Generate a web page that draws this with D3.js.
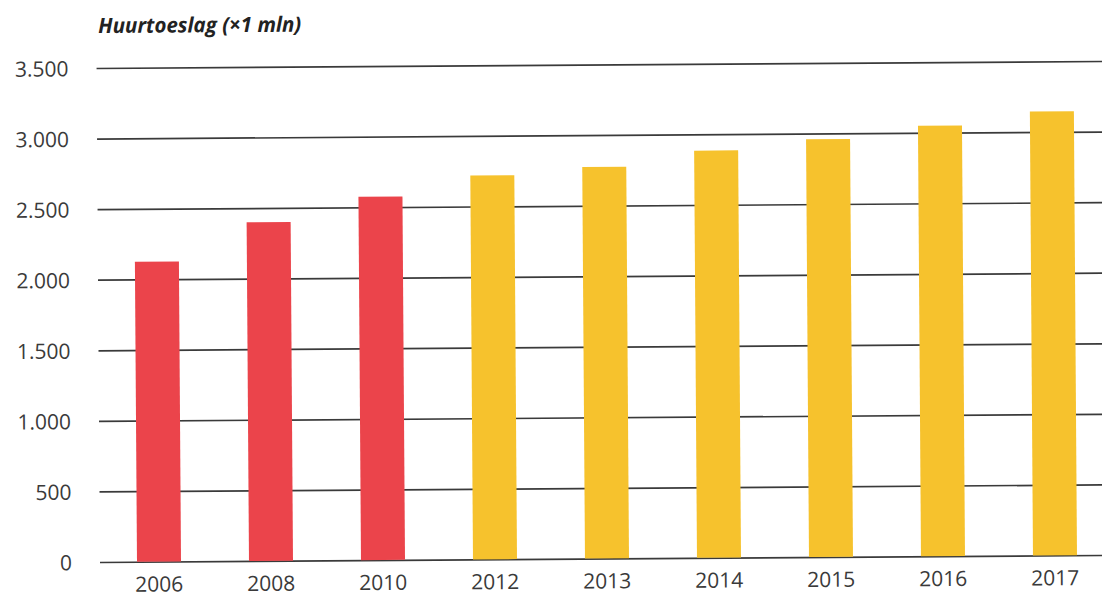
<!DOCTYPE html>
<html>
<head>
<meta charset="utf-8">
<script src="https://cdn.jsdelivr.net/npm/d3@7"></script>
<style>
  html, body { margin: 0; padding: 0; background: #ffffff; }
  svg { display: block; }
  text { font-family: "Open Sans", "Noto Sans", sans-serif; }
</style>
</head>
<body>
<div id="chart"></div>
<script>
// Huurtoeslag per jaar (x 1 mln euro)
const years = ["2006", "2008", "2010", "2012", "2013", "2014", "2015", "2016", "2017"];
const values = [2125, 2400, 2575, 2720, 2775, 2885, 2960, 3050, 3145];
const kinds = ["realisatie", "realisatie", "realisatie", "raming", "raming", "raming", "raming", "raming", "raming"];
const yTicks = [0, 500, 1000, 1500, 2000, 2500, 3000, 3500];
const title = "Huurtoeslag (×1 mln)";

const width = 1102, height = 597;
const left = 100, right = 1110, baseY = 562, topY = 68;

const svg = d3.select("#chart").append("svg")
  .attr("width", width)
  .attr("height", height);

// whole figure sits slightly tilted, pivoting on the axis origin
const g = svg.append("g")
  .attr("transform", `rotate(-0.4, ${left}, ${baseY})`);

const x = d3.scaleBand()
  .domain(years)
  .range([103, 103 + 112 * years.length])
  .paddingInner(0.607)
  .paddingOuter(0.3035);

const y = d3.scaleLinear()
  .domain([0, 3500])
  .range([baseY, topY]);

const color = d3.scaleOrdinal()
  .domain(["realisatie", "raming"])
  .range(["#eb444b", "#f6c22d"]);

const nl = d3.formatLocale({ decimal: ",", thousands: ".", grouping: [3], currency: ["€", ""] });
const fmt = nl.format(",");

// gridlines with value labels
const yAxis = d3.axisLeft(y)
  .tickValues(yTicks)
  .tickFormat(fmt)
  .tickSize(-(right - left))
  .tickPadding(28);

const ya = g.append("g")
  .attr("transform", `translate(${left},0)`)
  .call(yAxis);
ya.select(".domain").remove();
ya.selectAll(".tick line")
  .attr("stroke", "#3a3a3a")
  .attr("stroke-width", 1.7);
ya.selectAll(".tick text")
  .attr("fill", "#3a3a3a")
  .attr("font-size", 21)
  .attr("dy", "0.36em");

// bars
g.append("g")
  .selectAll("rect")
  .data(years)
  .join("rect")
  .attr("x", d => x(d))
  .attr("width", x.bandwidth())
  .attr("y", (d, i) => y(values[i]))
  .attr("height", (d, i) => y(0) - y(values[i]))
  .attr("fill", (d, i) => color(kinds[i]));

// year labels
const xAxis = d3.axisBottom(x).tickSize(0).tickPadding(15);
const xa = g.append("g")
  .attr("transform", `translate(0,${baseY})`)
  .call(xAxis);
xa.select(".domain").remove();
xa.selectAll(".tick text")
  .attr("fill", "#3a3a3a")
  .attr("font-size", 21);

// title
g.append("text")
  .attr("x", 102)
  .attr("y", 33)
  .attr("font-size", 21)
  .attr("font-weight", 700)
  .attr("font-style", "italic")
  .attr("fill", "#222")
  .attr("textLength", 203)
  .attr("lengthAdjust", "spacingAndGlyphs")
  .text(title);
</script>
</body>
</html>
